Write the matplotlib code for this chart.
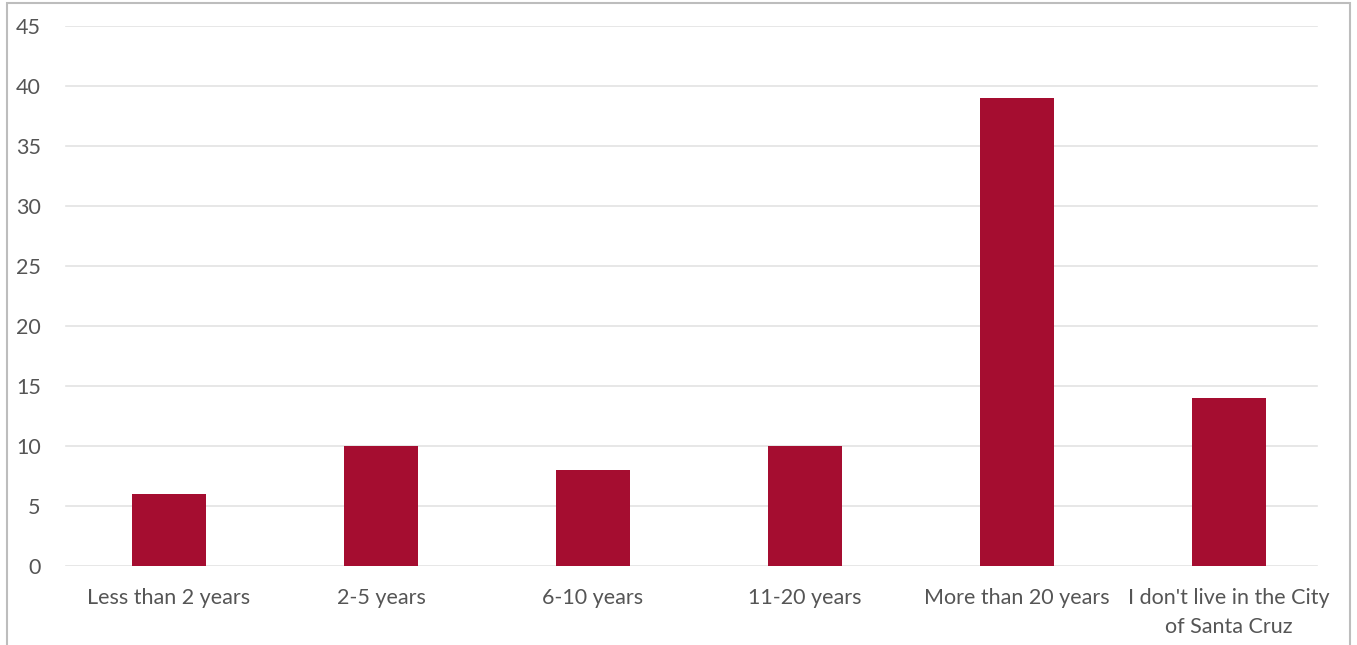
import matplotlib
matplotlib.use("Agg")
import matplotlib.pyplot as plt
from matplotlib.patches import Rectangle

categories = ["Less than 2 years", "2-5 years", "6-10 years", "11-20 years",
              "More than 20 years", "I don't live in the City\nof Santa Cruz"]
values = [6, 10, 8, 10, 39, 14]
yticks = [0, 5, 10, 15, 20, 25, 30, 35, 40, 45]

W, H = 1357, 645
fig = plt.figure(figsize=(W / 100, H / 100), dpi=100)
ax = fig.add_axes([63 / W, 1 - 566 / H, (1335 - 63) / W, (566 - 26) / H])

plt.rcParams['font.family'] = ['Lato', 'DejaVu Sans']
text_color = "#555555"

x = list(range(len(categories)))
ax.bar(x, values, width=0.35, color="#A50D30", zorder=3)
ax.set_xlim(-0.5, len(categories) - 0.5)
ax.set_ylim(0, 45)
ax.set_yticks(yticks)
ax.set_yticklabels([str(t) for t in yticks], family=['Lato', 'DejaVu Sans'],
                   fontsize=15.5, color=text_color)
ax.set_xticks(x)
ax.set_xticklabels(categories, family=['Lato', 'DejaVu Sans'], fontsize=15.5,
                   color=text_color, linespacing=1.55)
ax.tick_params(axis='y', length=0, pad=16)
ax.tick_params(axis='x', length=0, pad=16)
for t in yticks:
    ax.axhline(t, xmin=0.002, xmax=(1317 - 63) / (1335 - 63),
               color="#e3e3e3", lw=1.2, zorder=1)
for s in ax.spines.values():
    s.set_visible(False)

fig.patches.append(Rectangle((7 / W, -0.1), (1350 - 7) / W, 1.1 - 3 / H,
                             transform=fig.transFigure, fill=False,
                             edgecolor="#bdbdbd", lw=1.5))

fig.savefig("out.png", dpi=100)
